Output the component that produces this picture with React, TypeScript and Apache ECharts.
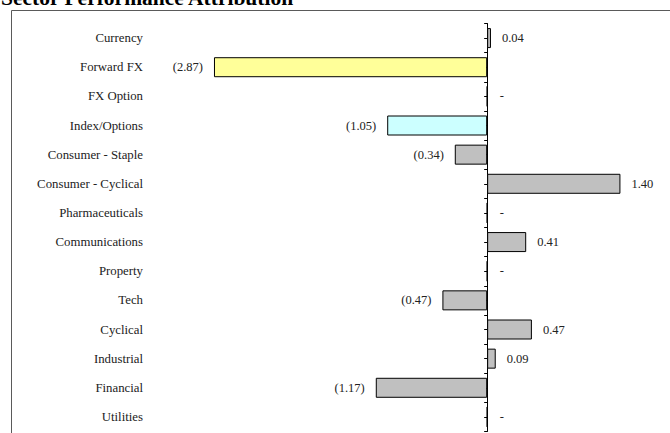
import React, { useEffect, useRef } from "react";
import * as echarts from "echarts";

const categories = [
  "Currency",
  "Forward FX",
  "FX Option",
  "Index/Options",
  "Consumer - Staple",
  "Consumer - Cyclical",
  "Pharmaceuticals",
  "Communications",
  "Property",
  "Tech",
  "Cyclical",
  "Industrial",
  "Financial",
  "Utilities",
];
const values = [0.04, -2.87, 0, -1.05, -0.34, 1.4, 0, 0.41, 0, -0.47, 0.47, 0.09, -1.17, 0];
const barColors: Record<string, string> = {
  "Forward FX": "#FFFF99",
  "Index/Options": "#CCFFFF",
};
const defaultColor = "#C0C0C0";
const title = "Sector Performance Attribution";

const fmt = (v: number) => (v === 0 ? "-" : v < 0 ? `(${Math.abs(v).toFixed(2)})` : v.toFixed(2));

export default function App() {
  const ref = useRef<HTMLDivElement>(null);
  useEffect(() => {
    if (!ref.current) return;
    const chart = echarts.init(ref.current, null, { renderer: "svg" });
    const serif = "'Liberation Serif', 'Times New Roman', serif";
    chart.setOption({
      animation: false,
      backgroundColor: "#ffffff",
      graphic: [
        {
          type: "rect",
          shape: { x: 11.5, y: 10.5, width: 700, height: 500 },
          style: { fill: "none", stroke: "#5a5a5a", lineWidth: 1 },
          silent: true,
        },
        {
          type: "text",
          x: 1,
          y: 9,
          style: {
            text: title,
            font: `bold 21.5px ${serif}`,
            fill: "#000",
            verticalAlign: "bottom",
          },
        },
      ],
      grid: { left: 154, right: 11.5, top: 23.5, height: 408 },
      xAxis: { type: "value", min: -3.5, max: 1.8, show: false },
      yAxis: [
        {
          type: "category",
          data: categories,
          inverse: true,
          position: "left",
          axisLine: { show: false, onZero: false },
          axisTick: { show: false },
          axisLabel: { margin: 11, fontFamily: serif, fontSize: 12.8, color: "#222" },
        },
        {
          type: "category",
          data: categories,
          inverse: true,
          position: "left",
          axisLine: { show: true, onZero: true, onZeroAxisIndex: 0, lineStyle: { color: "#000", width: 1 } },
          axisTick: { show: true, length: 3, lineStyle: { color: "#000" } },
          axisLabel: { show: false },
        },
        {
          type: "category",
          data: categories,
          inverse: true,
          position: "left",
          axisLine: { show: false, onZero: true, onZeroAxisIndex: 0 },
          axisTick: { show: true, alignWithLabel: true, length: 3, lineStyle: { color: "#000" } },
          axisLabel: { show: false },
        },
      ],
      series: [
        {
          type: "bar",
          yAxisIndex: 0,
          barWidth: 20,
          data: values.map((v, i) => ({
            value: v,
            itemStyle: {
              color: barColors[categories[i]] || defaultColor,
              borderColor: "#000",
              borderWidth: 1,
            },
            label: {
              show: true,
              position: v < 0 ? "left" : "right",
              distance: v === 0 ? 12 : 11,
              formatter: () => fmt(v),
              fontFamily: serif,
              fontSize: 12.5,
              color: "#222",
            },
          })),
        },
      ],
    });
    return () => chart.dispose();
  }, []);
  return (
    <div
      ref={ref}
      style={{ position: "absolute", left: 0, top: 0, width: 670, height: 433, background: "#fff" }}
    />
  );
}
